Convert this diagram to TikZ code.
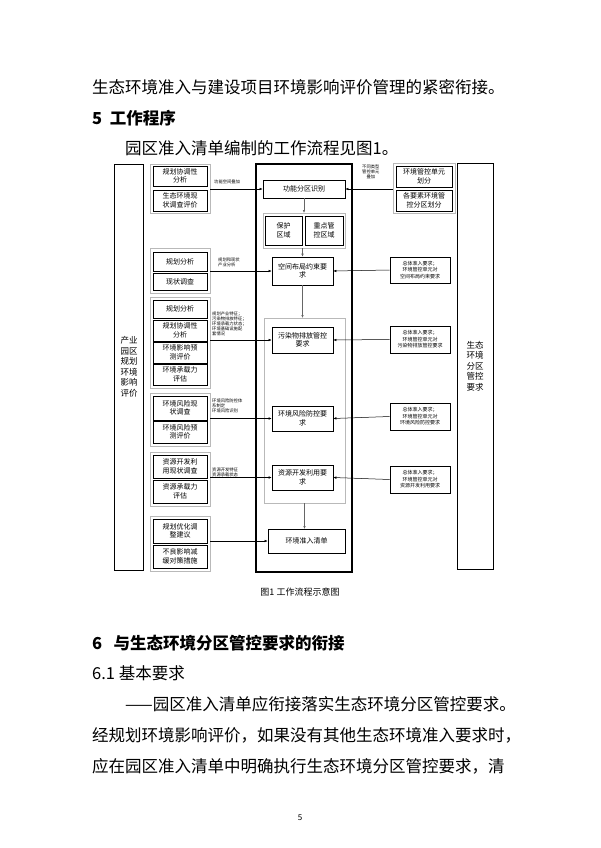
\documentclass[tikz,border=0pt]{standalone}
\usepackage{fontspec}
\setmainfont{Noto Sans CJK SC}
\usetikzlibrary{arrows.meta}
\begin{document}
\begin{tikzpicture}[x=1pt,y=-1pt,
  box/.style={draw,line width=0.6pt,align=center,inner sep=0.5pt,font=\fontsize{7}{8.5}\selectfont},
  grp/.style={draw=gray!55,line width=0.6pt},
  note/.style={align=left,anchor=west,inner sep=0pt,font=\fontsize{4.3}{5}\selectfont},
  body/.style={anchor=west,inner sep=0pt,font=\fontsize{16.5}{18}\selectfont},
  flow/.style={-{Latex[length=3pt,width=2.5pt]},line width=0.5pt},
  vflow/.style={-{Latex[length=3pt,width=2.5pt]},line width=0.5pt,gray!80!black}]
\useasboundingbox (0,0) rectangle (600,848);
% page text
\node[body] (t1) at (92,87) {生态环境准入与建设项目环境影响评价管理的紧密衔接。};
\node[body,font=\bfseries\fontsize{16.5}{18}\selectfont] (t2) at (92,118) {5\ \ 工作程序};
\node[body] (t3) at (125,148) {园区准入清单编制的工作流程见图1。};
% outer columns
\node[draw,line width=0.6pt,minimum width=29,minimum height=406,font=\fontsize{8.5}{10.5}\selectfont,align=center] (lcol) at (129,367) {产业\\园区\\规划\\环境\\影响\\评价};
\node[draw,line width=0.6pt,minimum width=36,minimum height=406,font=\fontsize{8.5}{10.5}\selectfont,align=center] (rcol) at (475,366) {生态\\环境\\分区\\管控\\要求};
\draw[line width=2.2pt] (256,164) rectangle (352,572);
% left groups
\draw[grp] (150,164) rectangle (210,213);
\node[box,minimum width=54,minimum height=20] (la1) at (180,176) {规划协调性\\分析};
\node[box,minimum width=54,minimum height=21] (la2) at (180,200.5) {生态环境现\\状调查评价};
\draw[grp] (150,248) rectangle (210,293);
\node[box,minimum width=54,minimum height=19] (lb1) at (180,261.5) {规划分析};
\node[box,minimum width=54,minimum height=17] (lb2) at (180,281.5) {现状调查};
\draw[grp] (150,297) rectangle (210,388);
\node[box,minimum width=54,minimum height=18] (lc1) at (180,309) {规划分析};
\node[box,minimum width=54,minimum height=21] (lc2) at (180,330.5) {规划协调性\\分析};
\node[box,minimum width=54,minimum height=21] (lc3) at (180,352.5) {环境影响预\\测评价};
\node[box,minimum width=54,minimum height=21] (lc4) at (180,374.5) {环境承载力\\评估};
\draw[grp] (150,393) rectangle (210,446);
\node[box,minimum width=54,minimum height=24] (ld1) at (180,408) {环境风险现\\状调查};
\node[box,minimum width=54,minimum height=22] (ld2) at (180,432) {环境风险预\\测评价};
\draw[grp] (150,452) rectangle (210,506);
\node[box,minimum width=54,minimum height=23] (le1) at (180,466.5) {资源开发利\\用现状调查};
\node[box,minimum width=54,minimum height=23] (le2) at (180,491.5) {资源承载力\\评估};
\draw[grp] (150,516) rectangle (210,571);
\node[box,minimum width=54,minimum height=24] (lf1) at (180,531) {规划优化调\\整建议};
\node[box,minimum width=54,minimum height=23] (lf2) at (180,556.5) {不良影响减\\缓对策措施};
% centre column
\node[box,minimum width=82,minimum height=18] (func) at (304,189) {功能分区识别};
\draw[grp] (263,213) rectangle (345,248);
\node[box,minimum width=37,minimum height=29,align=left] (prot) at (283.5,230.5) {保护\\区域};
\node[box,minimum width=38,minimum height=29] (key) at (324,230.5) {重点管\\控区域};
\node[box,minimum width=61,minimum height=28] (space) at (302.5,271) {空间布局约束要\\求};
\draw[grp] (264,318) rectangle (345,503);
\node[box,minimum width=61,minimum height=26] (poll) at (302.5,340) {污染物排放管控\\要求};
\node[box,minimum width=61,minimum height=25] (risk) at (302.5,418.5) {环境风险防控要\\求};
\node[box,minimum width=61,minimum height=25] (res) at (302.5,477.5) {资源开发利用要\\求};
\node[box,minimum width=77,minimum height=24] (list) at (306.5,541) {环境准入清单};
% right boxes
\draw[grp] (393,163) rectangle (455,213);
\node[box,minimum width=56,minimum height=21] (ra1) at (424,176.5) {环境管控单元\\划分};
\node[box,minimum width=56,minimum height=21] (ra2) at (424,200.5) {各要素环境管\\控分区划分};
\node[box,minimum width=60,minimum height=26,font=\fontsize{5}{6.5}\selectfont] (rb) at (420,270) {总体准入要求；\\环境管控单元对\\空间布局约束要求};
\node[box,minimum width=60,minimum height=27,font=\fontsize{5}{6.5}\selectfont] (rc) at (420,339.5) {总体准入要求；\\环境管控单元对\\污染物排放管控要求};
\node[box,minimum width=60,minimum height=27,font=\fontsize{5}{6.5}\selectfont] (rd) at (420,416.5) {总体准入要求；\\环境管控单元对\\环境风险防控要求};
\node[box,minimum width=60,minimum height=27,font=\fontsize{5}{6.5}\selectfont] (re) at (420,479.5) {总体准入要求；\\环境管控单元对\\资源开发利用要求};
% labels
\node[note] (n1) at (214,182) {功能空间叠加};
\node[note,align=center] (n2) at (362,172) {不同类型\\管控单元\\叠加};
\node[note] (n3) at (218,262) {规划和现状\\产业分析};
\node[note] (n4) at (212,324) {规划产业特征；\\污染物排放特征；\\环境承载力状态；\\环境基础设施配\\套情况};
\node[note] (n5) at (212,406) {环境风险防控体\\系制定\\环境风险识别};
\node[note] (n6) at (212,472) {资源开发特征\\资源承载状态};
% connectors
\draw[flow] (210,189) -- (func.west);
\draw[flow] (210,271) -- (space.west);
\draw[flow] (210,340) -- (poll.west);
\draw[flow] (210,418.5) -- (risk.west);
\draw[flow] (210,477.5) -- (res.west);
\draw[flow] (210,541) -- (list.west);
\draw[flow] (393,189) -- (func.east);
\draw[flow] (rb.west) -- (space.east);
\draw[flow] (rc.west) -- (poll.east);
\draw[flow] (rd.west) -- (risk.east);
\draw[flow] (re.west) -- (res.east);
\draw[vflow] (func.south) -- (304,213);
\draw[vflow] (302.5,248) -- (space.north);
\draw[vflow] (space.south) -- (302.5,318);
\draw[vflow] (304.5,503) -- (304.5,529);
% caption and following text
\node[font=\fontsize{9}{11}\selectfont] (cap) at (300,592) {图1\ 工作流程示意图};
\node[body,font=\bfseries\fontsize{16.5}{18}\selectfont] (t4) at (92,643) {6\ \ \ 与生态环境分区管控要求的衔接};
\node[body] (t5) at (92,673) {6.1\ 基本要求};
\node[body] (t6) at (125,704) {——园区准入清单应衔接落实生态环境分区管控要求。};
\node[body] (t7) at (92,735) {经规划环境影响评价，如果没有其他生态环境准入要求时，};
\node[body] (t8) at (92,766) {应在园区准入清单中明确执行生态环境分区管控要求，清};
\node[font=\fontsize{8}{10}\selectfont] (pg) at (300,818) {5};
\end{tikzpicture}
\end{document}
